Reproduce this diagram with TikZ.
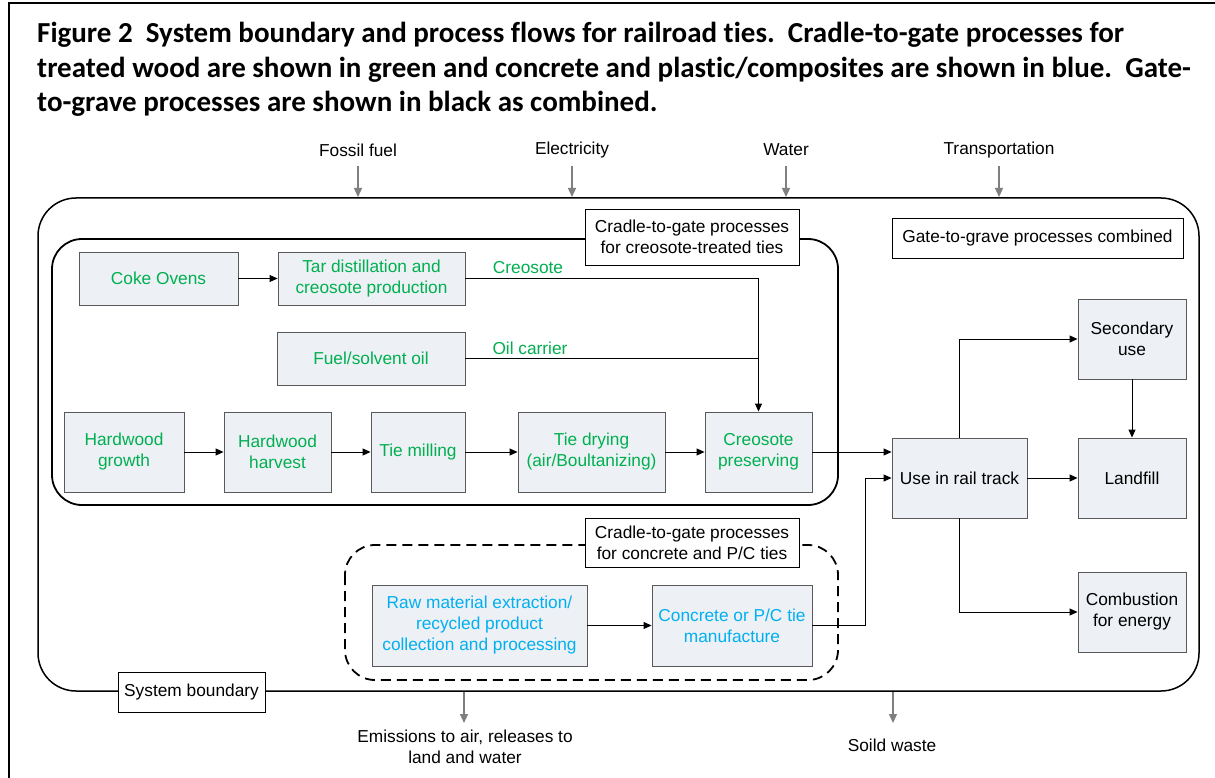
\documentclass[tikz,border=0pt]{standalone}
\usepackage{fontspec}
\setmainfont{Liberation Sans}
\newfontfamily\titlefont[Ligatures=NoCommon]{Carlito}
\usetikzlibrary{arrows.meta}
\definecolor{grn}{HTML}{00B050}
\definecolor{blu}{HTML}{00B0F0}
\definecolor{boxfill}{HTML}{EDF0F5}
\definecolor{arrgray}{HTML}{7F7F7F}
\definecolor{boxline}{HTML}{595959}
\begin{document}
\begin{tikzpicture}[x=1pt,y=-1pt,
  every node/.style={font=\fontsize{17.3}{21}\selectfont, inner sep=0pt},
  proc/.style 2 args={draw=boxline, fill=boxfill, line width=0.9pt, minimum width=#1, minimum height=#2, align=center},
  lab/.style 2 args={draw=black, fill=white, line width=0.9pt, minimum width=#1, minimum height=#2, align=center},
  arr/.style={draw=black, line width=0.9pt, -{Triangle[length=8pt,width=7pt]}},
  plain/.style={draw=black, line width=0.9pt},
  garr/.style={draw=arrgray, line width=1.3pt, -{Triangle[length=9pt,width=8pt]}},
  grp/.style={draw=black, line width=1.8pt},
  titletext/.style={font=\titlefont\bfseries\fontsize{29}{34.5}\selectfont, anchor=base west}
]
\useasboundingbox (0,0) rectangle (1215,778);
\fill[white] (0,0) rectangle (1215,778);
% figure frame
\draw[line width=2.5pt] (9,778) -- (9,3) -- (1215,3);

% title
\node[titletext] (t1) at (37,43) {Figure 2\ \ System boundary and process flows for railroad ties.\ \ Cradle-to-gate processes for};
\node[titletext] (t2) at (37,77.5) {treated wood are shown in green and concrete and plastic/composites are shown in blue.\ \ Gate-};
\node[titletext] (t3) at (37,112) {to-grave processes are shown in black as combined.};

% system boundary
\draw[line width=1.5pt, rounded corners=38pt] (38,198) rectangle (1199,691);
% creosote group
\draw[grp, rounded corners=30pt] (52,239) rectangle (838,505);
% concrete group
\draw[grp, dash pattern=on 10pt off 6pt, rounded corners=30pt] (345,545) rectangle (838,680);

% inputs
\node (ff) at (358,150) {Fossil fuel};
\node (el) at (572,150) {Electricity};
\node (wa) at (786,150) {Water};
\node (tr) at (999,150) {Transportation};
\coordinate (ffs) at (358,166); \coordinate (ffe) at (358,197);
\coordinate (els) at (572,166); \coordinate (ele) at (572,197);
\coordinate (was) at (786,166); \coordinate (wae) at (786,197);
\coordinate (trs) at (999,166); \coordinate (tre) at (999,197);
\draw[garr] (ffs) -- (ffe);
\draw[garr] (els) -- (ele);
\draw[garr] (was) -- (wae);
\draw[garr] (trs) -- (tre);

% outputs
\coordinate (ems) at (464,692); \coordinate (eme) at (464,723);
\coordinate (sws) at (893,692); \coordinate (swe) at (893,723);
\draw[garr] (ems) -- (eme);
\draw[garr] (sws) -- (swe);
\node[align=center] (em) at (465,747) {Emissions to air, releases to\\land and water};
\node (sw) at (892,745) {Soild waste};

% labels
\node[lab={214pt}{56pt}] (crlab) at (692,237) {Cradle-to-gate processes\\for creosote-treated ties};
\node[lab={291pt}{40pt}] (gglab) at (1037.5,238) {Gate-to-grave processes combined};
\node[lab={214pt}{49pt}] (pclab) at (692,542.5) {Cradle-to-gate processes\\for concrete and P/C ties};
\node[lab={147pt}{40pt}] (sblab) at (191.5,692) {System boundary};

% green processes
\node[proc={159pt}{53pt}, text=grn] (coke) at (158.5,278.5) {Coke Ovens};
\node[proc={187pt}{53pt}, text=grn] (tar) at (371.5,278.5) {Tar distillation and\\creosote production};
\node[proc={188pt}{53pt}, text=grn] (fuel) at (371,358.5) {Fuel/solvent oil};
\node[proc={120pt}{80pt}, text=grn] (hg) at (124,452) {Hardwood\\growth};
\node[proc={107pt}{80pt}, text=grn] (hh) at (277.5,452) {Hardwood\\harvest};
\node[proc={94pt}{80pt}, text=grn] (tm) at (418,452) {Tie milling};
\node[proc={147pt}{80pt}, text=grn] (td) at (591.5,452) {Tie drying\\(air/Boultanizing)};
\node[proc={107pt}{80pt}, text=grn] (cp) at (758.5,452) {Creosote\\preserving};

% blue processes
\node[proc={215pt}{81pt}, text=blu] (raw) at (479.5,625.5) {Raw material extraction/\\recycled product\\collection and processing};
\node[proc={160pt}{81pt}, text=blu] (conc) at (732,625.5) {Concrete or P/C tie\\manufacture};

% black processes
\node[proc={135pt}{80pt}] (use) at (959.5,478) {Use in rail track};
\node[proc={108pt}{80pt}] (sec) at (1132,339) {Secondary\\use};
\node[proc={108pt}{80pt}] (land) at (1132,478) {Landfill};
\node[proc={108pt}{80pt}] (comb) at (1132,612) {Combustion\\for energy};

% connectors
\draw[arr] (coke) -- (tar);
\draw[arr] (tar.east) -| (cp.north);
\draw[plain] (fuel.east) -- (fuel.east -| cp.north);
\node[text=grn] (crtxt) at (528,268) {Creosote};
\node[text=grn] (oiltxt) at (530,348) {Oil carrier};
\draw[arr] (hg) -- (hh);
\draw[arr] (hh) -- (tm);
\draw[arr] (tm) -- (td);
\draw[arr] (td) -- (cp);
\draw[arr] (cp.east) -- (cp.east -| use.west);
\draw[arr] (raw) -- (conc);
\draw[arr] (conc.east) -- ++(53,0) |- (use.west);
\draw[arr] (use.north) |- (sec.west);
\draw[arr] (use) -- (land);
\draw[arr] (use.south) |- (comb.west);
\draw[arr] (sec) -- (land);
\end{tikzpicture}
\end{document}
